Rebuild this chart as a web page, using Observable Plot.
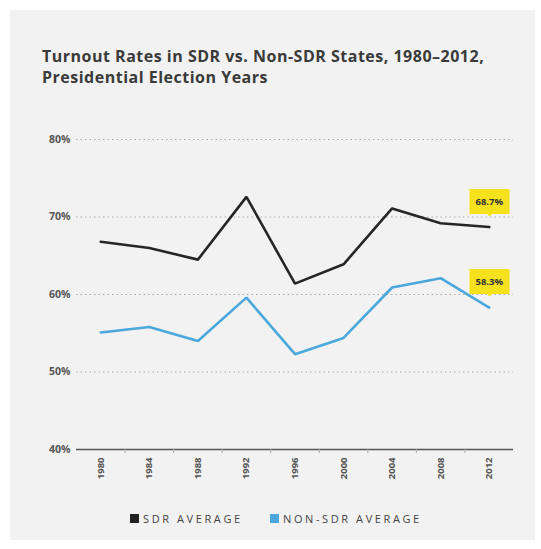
<!DOCTYPE html>
<html>
<head>
<meta charset="utf-8">
<script src="https://cdn.jsdelivr.net/npm/d3@7"></script>
<script src="https://cdn.jsdelivr.net/npm/@observablehq/plot@0.6"></script>
<style>
  html, body { margin: 0; padding: 0; background: #fff; width: 541px; height: 549px; overflow: hidden; font-family: "Open Sans", Lato, sans-serif; }
  #panel { position: absolute; left: 10px; top: 10px; width: 525px; height: 530px; background: #f2f2f2; }
  #title { position: absolute; left: 42px; top: 46px; font-size: 16px; font-weight: 700; line-height: 21px; color: #3a3a3a; letter-spacing: 0.5px; white-space: nowrap; }
  #chart { position: absolute; left: 0; top: 110px; }
  #legend { position: absolute; left: 0; top: 511px; width: 541px; font-size: 11px; color: #444; letter-spacing: 2.6px; }
  .item { position: absolute; display: flex; align-items: center; white-space: nowrap; }
  .sw { width: 9px; height: 9px; margin-right: 4px; display: inline-block; }
</style>
</head>
<body>
<div id="panel"></div>
<div id="title">Turnout Rates in SDR vs. Non-SDR States, 1980–2012,<br>Presidential Election Years</div>
<div id="chart"></div>
<div id="legend">
  <div class="item" style="left:130px;top:0"><span class="sw" style="background:#222"></span>SDR AVERAGE</div>
  <div class="item" style="left:270px;top:0"><span class="sw" style="background:#4aa8dc"></span>NON-SDR AVERAGE</div>
</div>
<script>
const years = [1980, 1984, 1988, 1992, 1996, 2000, 2004, 2008, 2012];
const sdr = [66.8, 66.0, 64.5, 72.6, 61.4, 63.9, 71.1, 69.2, 68.7];
const nonSdr = [55.1, 55.8, 54.0, 59.6, 52.3, 54.4, 60.9, 62.1, 58.3];
const yTicks = [40, 50, 60, 70, 80];
const gridTicks = [50, 60, 70, 80];
const seriesNames = ["SDR AVERAGE", "NON-SDR AVERAGE"];
const seriesColors = ["#262626", "#4aa8dc"];

const rows = [];
years.forEach((yr, i) => {
  rows.push({year: yr, value: sdr[i], series: seriesNames[0]});
  rows.push({year: yr, value: nonSdr[i], series: seriesNames[1]});
});
const last = rows.filter(d => d.year === years[years.length - 1]);
const betweenTicks = years.slice(0, -1).map(y => y + 2);

const chart = Plot.plot({
  width: 541,
  height: 380,
  marginLeft: 76,
  marginRight: 28,
  marginTop: 29,
  marginBottom: 41,
  style: {background: "transparent", fontFamily: "'Open Sans', Lato, sans-serif", color: "#333"},
  x: {type: "linear", domain: [1978, 2014], label: null},
  y: {domain: [40, 80], label: null},
  color: {domain: seriesNames, range: seriesColors},
  marks: [
    Plot.gridY(gridTicks, {stroke: "#aaa", strokeOpacity: 1, strokeDasharray: "1.5,3"}),
    Plot.ruleY([40], {stroke: "#555", strokeWidth: 1.5}),
    Plot.axisY(yTicks, {tickSize: 0, tickPadding: 6, tickFormat: d => d + "%", fontSize: 10.5, fill: "#555", fontWeight: 700, label: null}),
    Plot.axisX(betweenTicks, {tickSize: 4, tickFormat: () => "", stroke: "#aaa", label: null}),
    Plot.axisX(years, {tickSize: 0, tickPadding: 8, tickRotate: -90, tickFormat: d => String(d), fontSize: 9.5, fill: "#555", fontWeight: 700, label: null}),
    Plot.line(rows, {x: "year", y: "value", z: "series", stroke: "series", strokeWidth: 2.6, strokeLinejoin: "miter"}),
    Plot.tip(last, {x: "year", y: "value", title: d => d.value.toFixed(1) + "%", anchor: "bottom", dy: -11,
      fill: "#f6e11d", stroke: "none", fontSize: 9.5, fontWeight: 700, textPadding: 6, pointerSize: 5, pathFilter: "none"})
  ]
});
document.getElementById("chart").appendChild(chart);
</script>
</body>
</html>
